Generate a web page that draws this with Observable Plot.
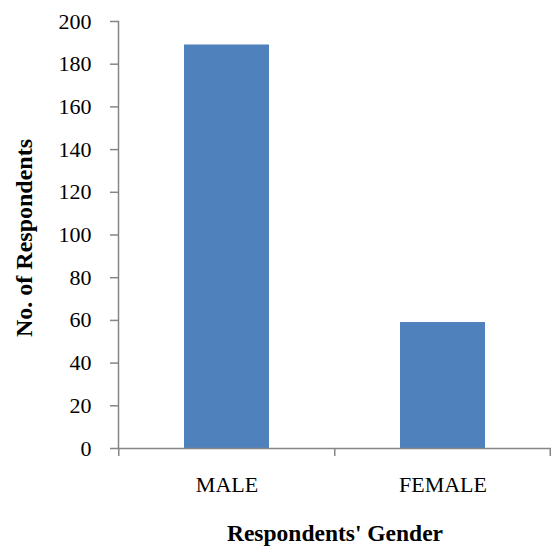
<!DOCTYPE html>
<html>
<head>
<meta charset="utf-8">
<script src="https://cdn.jsdelivr.net/npm/d3@7"></script>
<script src="https://cdn.jsdelivr.net/npm/@observablehq/plot@0.6"></script>
<style>
  html, body { margin: 0; padding: 0; background: #fff; }
</style>
</head>
<body>
<div id="chart"></div>
<script>
const categories = ["MALE", "FEMALE"];
const respondents = [189, 59];
const yTicks = [0, 20, 40, 60, 80, 100, 120, 140, 160, 180, 200];
const xTitle = "Respondents' Gender";
const yTitle = "No. of Respondents";

const data = categories.map((c, i) => ({gender: c, count: respondents[i]}));

const W = 552, H = 546, mL = 118, mR = 1, mT = 21, mB = 98;
const step = (W - mL - mR) / categories.length;
const axisColor = "#868686";

const chart = Plot.plot({
  width: W,
  height: H,
  marginLeft: mL,
  marginRight: mR,
  marginTop: mT,
  marginBottom: mB,
  style: {fontFamily: "'Liberation Serif', 'Times New Roman', serif", fontSize: "22px", color: "#000", background: "#fff"},
  x: {domain: categories, paddingInner: 0.605, paddingOuter: 0.3025, label: null},
  y: {domain: [0, 200], label: null},
  marks: [
    Plot.barY(data, {x: "gender", y: "count", fill: "#4F81BD"}),
    Plot.ruleY([0], {stroke: axisColor, strokeWidth: 1.5}),
    Plot.frame({anchor: "left", stroke: axisColor, strokeWidth: 1.5}),
    Plot.axisY({ticks: yTicks, tickSize: 8, tickPadding: 19, stroke: axisColor, strokeWidth: 1.5, strokeOpacity: 1, label: null, fill: "#000", fontSize: 22}),
    Plot.axisX({tickSize: 0, tickPadding: 28, label: null, fill: "#000", fontSize: 22}),
    Plot.ruleX(categories, {x: d => d, dx: -step / 2, y1: 0, y2: 0, insetBottom: -8, stroke: axisColor, strokeWidth: 1.5}),
    Plot.ruleX([categories[categories.length - 1]], {x: d => d, dx: step / 2 - 1, y1: 0, y2: 0, insetBottom: -8, stroke: axisColor, strokeWidth: 1.5}),
    Plot.text([yTitle], {frameAnchor: "left", dx: -94, dy: 3, rotate: -90, text: d => d, fontWeight: "bold", fontSize: 24, textAnchor: "middle", lineAnchor: "middle", fill: "#000"}),
    Plot.text([xTitle], {frameAnchor: "bottom", dy: 85, text: d => d, fontWeight: "bold", fontSize: 23.5, textAnchor: "middle", lineAnchor: "middle", fill: "#000"})
  ]
});
document.getElementById("chart").appendChild(chart);
</script>
</body>
</html>
